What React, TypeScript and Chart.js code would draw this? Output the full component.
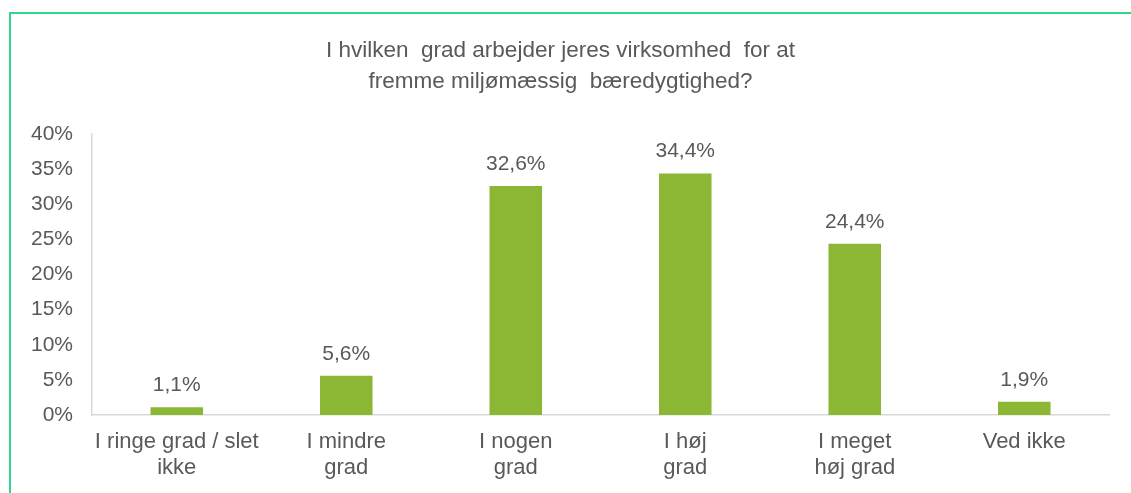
import React, { useEffect, useRef } from "react";
import { Chart, registerables } from "chart.js";

Chart.register(...registerables);

const titleLines = [
  "I hvilken  grad arbejder jeres virksomhed  for at",
  "fremme miljømæssig  bæredygtighed?",
];
const categories = [
  ["I ringe grad / slet", "ikke"],
  ["I mindre", "grad"],
  ["I nogen", "grad"],
  ["I høj", "grad"],
  ["I meget", "høj grad"],
  ["Ved ikke"],
];
const values = [1.1, 5.6, 32.6, 34.4, 24.4, 1.9];
const yTicks = [0, 5, 10, 15, 20, 25, 30, 35, 40];

const FONT = "'Liberation Sans', Arial, sans-serif";
const TEXT = "#595959";
const BAR = "#8bb734";

const dataLabels = {
  id: "dataLabels",
  afterDatasetsDraw(chart: any) {
    const ctx = chart.ctx;
    const meta = chart.getDatasetMeta(0);
    ctx.save();
    ctx.font = `21px ${FONT}`;
    ctx.fillStyle = TEXT;
    ctx.textAlign = "center";
    ctx.textBaseline = "alphabetic";
    meta.data.forEach((bar: any, i: number) => {
      const v = values[i];
      const label = v.toFixed(1).replace(".", ",") + "%";
      ctx.fillText(label, bar.x, bar.y - 16);
    });
    ctx.restore();
  },
};

export default function App() {
  const ref = useRef<HTMLCanvasElement>(null);
  useEffect(() => {
    if (!ref.current) return;
    const chart = new Chart(ref.current, {
      type: "bar",
      data: {
        labels: categories,
        datasets: [
          {
            data: values,
            backgroundColor: BAR,
            barPercentage: 0.62,
            categoryPercentage: 0.5,
          },
        ],
      },
      options: {
        animation: false,
        responsive: false,
        maintainAspectRatio: false,
        layout: { padding: { left: 12, right: 22, top: 35, bottom: -2 } },
        plugins: {
          legend: { display: false },
          tooltip: { enabled: false },
          title: {
            display: true,
            text: titleLines,
            color: TEXT,
            font: { family: FONT, size: 22.5, weight: "normal", lineHeight: 1.38 },
            padding: { top: 0, bottom: 37 },
          },
        },
        scales: {
          x: {
            grid: { display: false, drawTicks: false },
            border: { display: true, color: "#d9d9d9", width: 1.5, dash: [2, 1] },
            ticks: {
              color: TEXT,
              font: { family: FONT, size: 22, lineHeight: 26 / 22 },
              padding: 14,
              maxRotation: 0,
              autoSkip: false,
            },
          },
          y: {
            min: 0,
            max: 40,
            grid: { display: false, drawTicks: false },
            border: { display: true, color: "#d9d9d9", width: 1.5, dash: [2, 1] },
            afterBuildTicks(scale: any) {
              scale.ticks = yTicks.map((v) => ({ value: v }));
            },
            ticks: {
              color: TEXT,
              font: { family: FONT, size: 21 },
              padding: 19,
              callback: (v: any) => `${v}%`,
            },
          },
        },
      },
      plugins: [dataLabels],
    });
    return () => chart.destroy();
  }, []);

  return (
    <div style={{ position: "fixed", left: 0, top: 0, width: 1131, height: 493, background: "#fff", overflow: "hidden" }}>
      <div
        style={{
          position: "absolute",
          left: 9,
          top: 12,
          width: 1200,
          height: 600,
          borderTop: "2px solid #2fd68b",
          borderLeft: "2px solid #2fd68b",
        }}
      />
      <canvas ref={ref} width={1131} height={493} style={{ position: "absolute", left: 0, top: 0 }} />
    </div>
  );
}
